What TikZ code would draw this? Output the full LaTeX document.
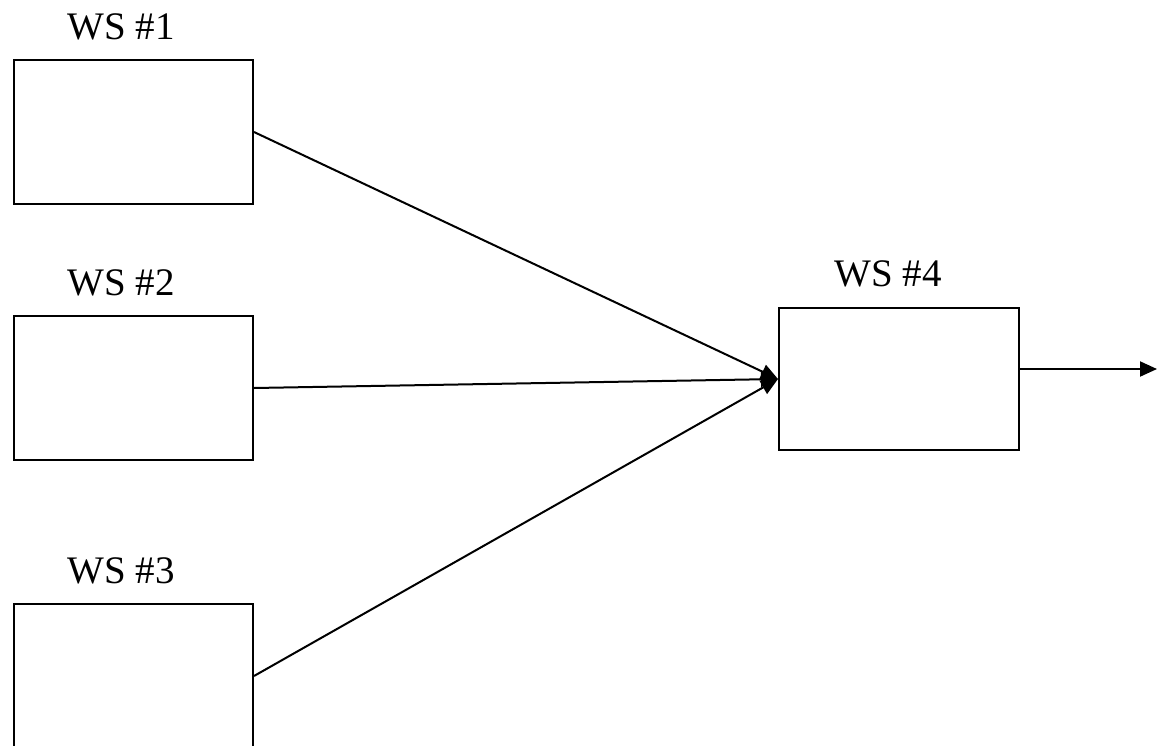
\documentclass[tikz,border=0pt]{standalone}
\usepackage{fontspec}
\setmainfont{Liberation Serif}
\usetikzlibrary{arrows.meta,calc}
\begin{document}
\begin{tikzpicture}[x=1pt,y=-1pt,
  wsbox/.style={draw,line width=2pt,minimum width=239pt,minimum height=144pt,inner sep=0pt,anchor=north west},
  wslabel/.style={anchor=base,inner sep=0pt,font=\fontsize{39}{46}\selectfont},
  flow/.style={line width=2pt,-{Triangle[length=17pt,width=15pt]}}]
\useasboundingbox (0,0) rectangle (1157,745);
% stations
\node[wsbox] (ws1) at (13,59) {};
\node[wsbox] (ws2) at (13,315) {};
\node[wsbox] (ws3) at (13,603) {};
\node[wsbox,minimum width=240pt,minimum height=142pt] (ws4) at (778,307) {};
% station names
\node[wslabel] (l1) at (121,39) {WS \#1};
\node[wslabel] (l2) at (121,295) {WS \#2};
\node[wslabel] (l3) at (121,583) {WS \#3};
\node[wslabel] (l4) at (888,286) {WS \#4};
% material flow
\draw[flow] (ws1.east) -- (ws4.west);
\draw[flow] (ws2.east) -- (ws4.west);
\draw[flow] (ws3.east) -- (ws4.west);
\coordinate (out) at (1157,369);
\draw[flow] (ws4.east |- out) -- (out);
\end{tikzpicture}
\end{document}
